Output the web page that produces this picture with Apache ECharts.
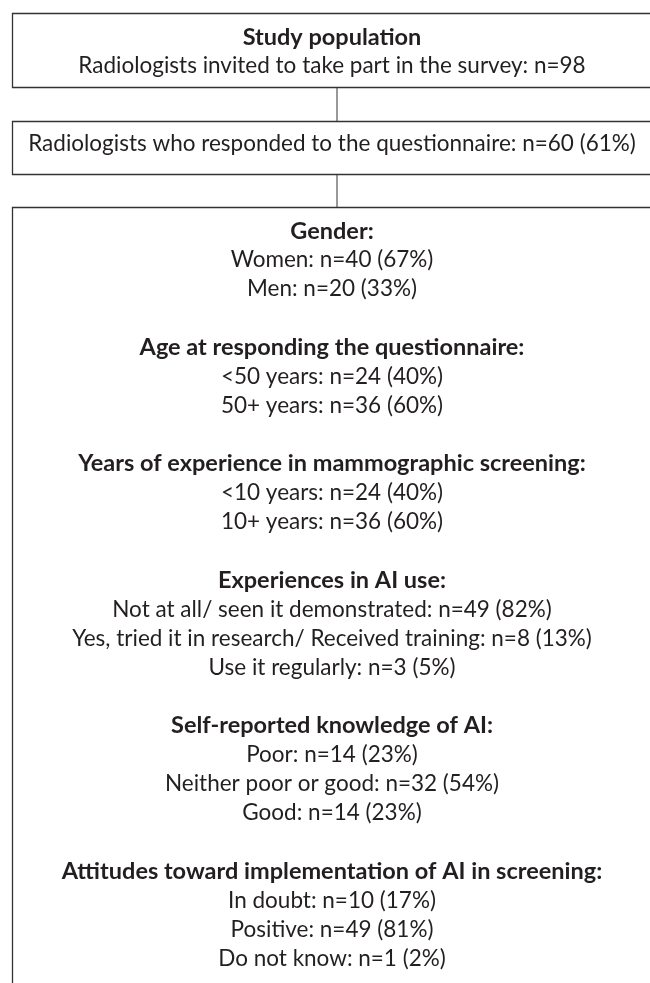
<!DOCTYPE html>
<html>
<head>
<meta charset="utf-8">
<script src="https://cdn.jsdelivr.net/npm/echarts@6/dist/echarts.min.js"></script>
<style>
  html, body { margin: 0; padding: 0; background: #fff; }
  #chart { width: 650px; height: 983px; }
</style>
</head>
<body>
<div id="chart"></div>
<script>
// box texts
const box1Title = 'Study population';
const box1Text = 'Radiologists invited to take part in the survey: n=98';
const box2Text = 'Radiologists who responded to the questionnaire: n=60 (61%)';

// sections of the last box
const sectionTitles = [
  'Gender:',
  'Age at responding the questionnaire:',
  'Years of experience in mammographic screening:',
  'Experiences in AI use:',
  'Self-reported knowledge of AI:',
  'Attitudes toward implementation of AI in screening:'
];
const sectionItems = [
  ['Women: n=40 (67%)', 'Men: n=20 (33%)'],
  ['<50 years: n=24 (40%)', '50+ years: n=36 (60%)'],
  ['<10 years: n=24 (40%)', '10+ years: n=36 (60%)'],
  ['Not at all/ seen it demonstrated: n=49 (82%)', 'Yes, tried it in research/ Received training: n=8 (13%)', 'Use it regularly: n=3 (5%)'],
  ['Poor: n=14 (23%)', 'Neither poor or good: n=32 (54%)', 'Good: n=14 (23%)'],
  ['In doubt: n=10 (17%)', 'Positive: n=49 (81%)', 'Do not know: n=1 (2%)']
];

const chart = echarts.init(document.getElementById('chart'));

const FONT = 'Lato';
const SIZE = 22.5;
const BOLD_SIZE = 23.5;
const INK = '#231f20';
const LINE = '#333';
const cx = 332;

function txt(str, y, bold) {
  return {
    type: 'text',
    x: cx, y: y,
    style: {
      text: str,
      fontFamily: FONT,
      fontSize: bold ? BOLD_SIZE : SIZE,
      fontWeight: bold ? 'bold' : 'normal',
      fill: INK,
      align: 'center',
      verticalAlign: 'middle'
    }
  };
}
function box(y, h) {
  return {
    type: 'rect',
    shape: { x: 12.5, y: y, width: 700, height: h },
    style: { fill: 'none', stroke: LINE, lineWidth: 1.3 }
  };
}
function link(y1, y2) {
  return {
    type: 'line',
    shape: { x1: 337, y1: y1, x2: 337, y2: y2 },
    style: { stroke: LINE, lineWidth: 1 }
  };
}

const elements = [
  box(13.5, 74), box(121.5, 53), box(207.5, 820),
  link(87.5, 121.5), link(174.5, 207.5),
  txt(box1Title, 37, true),
  txt(box1Text, 66, false),
  txt(box2Text, 144, false)
];

// lay out the last box line by line
const lineH = 29.1;
let row = 0;
sectionTitles.forEach((t, i) => {
  elements.push(txt(t, 231 + row * lineH, true));
  row++;
  sectionItems[i].forEach(s => {
    elements.push(txt(s, 231 + row * lineH, false));
    row++;
  });
  row++;
});

chart.setOption({
  backgroundColor: '#fff',
  animation: false,
  graphic: { elements: elements }
});
</script>
</body>
</html>
